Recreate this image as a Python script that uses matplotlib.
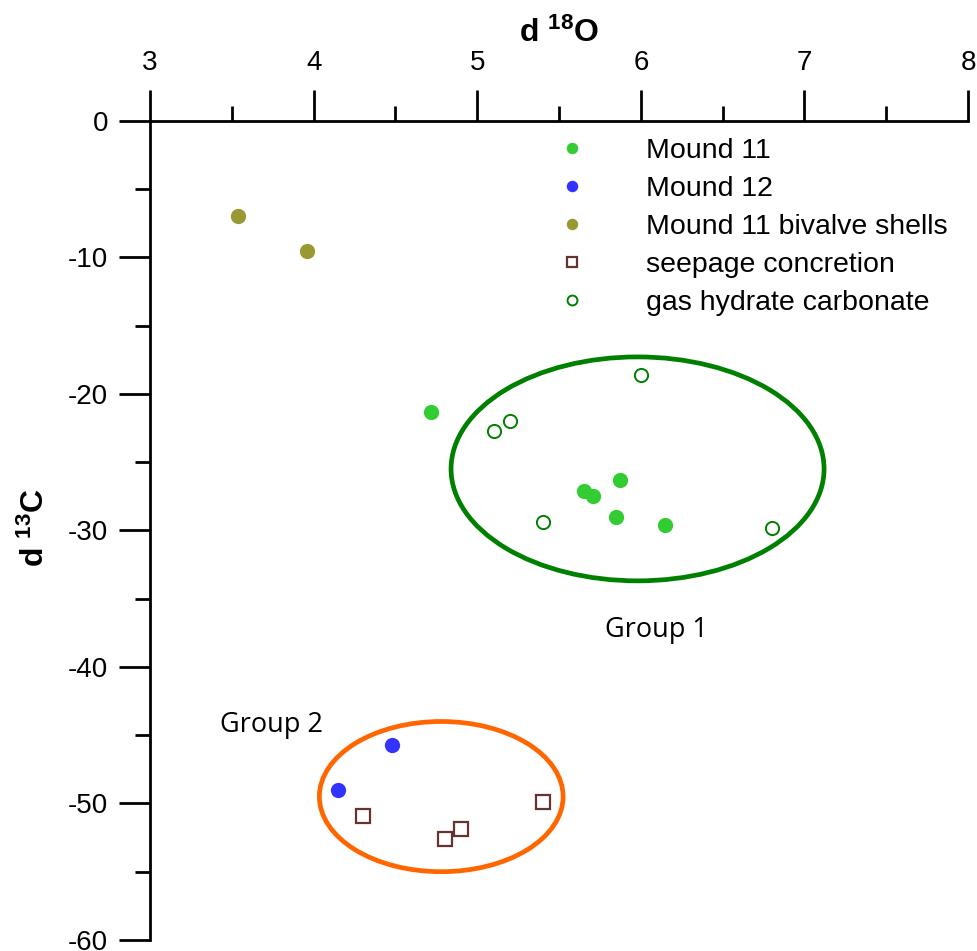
import numpy as np
import matplotlib.pyplot as plt
from matplotlib.patches import Ellipse
from matplotlib.ticker import MultipleLocator

plt.rcParams['font.family'] = ['Liberation Sans', 'DejaVu Sans']
plt.rcParams['mathtext.fontset'] = 'custom'
plt.rcParams['mathtext.rm'] = 'Liberation Sans'
plt.rcParams['mathtext.default'] = 'regular'
plt.rcParams['axes.unicode_minus'] = False

# d18O (x), d13C (y)
mound11_x = [4.72, 5.87, 5.65, 5.71, 5.85, 6.15]
mound11_y = [-21.3, -26.3, -27.1, -27.5, -29.0, -29.6]

mound12_x = [4.48, 4.15]
mound12_y = [-45.7, -49.0]

bivalve_x = [3.54, 3.96]
bivalve_y = [-7.0, -9.55]

seep_x = [4.30, 4.80, 4.90, 5.40]
seep_y = [-50.9, -52.6, -51.9, -49.9]

hydrate_x = [6.00, 5.10, 5.20, 5.40, 6.80]
hydrate_y = [-18.65, -22.7, -22.0, -29.4, -29.8]

# group outlines: center x, center y, width, height
group1 = (5.98, -25.5, 2.28, 16.4)
group2 = (4.78, -49.5, 1.49, 11.0)

fig = plt.figure(figsize=(9.78, 9.51), dpi=100)
ax = fig.add_axes([0.1534, 0.0116, 0.8364, 0.8615])

ax.plot(mound11_x, mound11_y, 'o', color='#33cc33', ms=11, mec='none', label='Mound 11')
ax.plot(mound12_x, mound12_y, 'o', color='#3333ff', ms=11, mec='none', label='Mound 12')
ax.plot(bivalve_x, bivalve_y, 'o', color='#999933', ms=11, mec='none', label='Mound 11 bivalve shells')
ax.plot(seep_x, seep_y, 's', mfc='none', mec='#663333', mew=1.6, ms=9.5, label='seepage concretion')
ax.plot(hydrate_x, hydrate_y, 'o', mfc='none', mec='#008000', mew=1.4, ms=9.5, label='gas hydrate carbonate')

ax.add_patch(Ellipse(group1[:2], group1[2], group1[3], fill=False, ec='#008000', lw=3.4))
ax.add_patch(Ellipse(group2[:2], group2[2], group2[3], fill=False, ec='#ff6600', lw=3.4))

ax.text(5.78, -37.8, 'Group 1', family='Open Sans', fontsize=19.5, ha='left', va='baseline')
ax.text(3.43, -44.76, 'Group 2', family='Open Sans', fontsize=19.5, ha='left', va='baseline')

ax.set_xlim(3, 8)
ax.set_ylim(-60, 0)
ax.xaxis.tick_top()
ax.xaxis.set_label_position('top')
ax.xaxis.set_major_locator(MultipleLocator(1))
ax.xaxis.set_minor_locator(MultipleLocator(0.5))
ax.yaxis.set_major_locator(MultipleLocator(10))
ax.yaxis.set_minor_locator(MultipleLocator(5))

for s in ['right', 'bottom']:
    ax.spines[s].set_visible(False)
for s in ['left', 'top']:
    ax.spines[s].set_linewidth(2)

ax.tick_params(which='major', length=22, width=2, labelsize=20)
ax.tick_params(which='minor', length=11, width=2)
ax.tick_params(axis='x', which='major', pad=10)
ax.tick_params(axis='y', which='major', pad=8)

ax.set_xlabel(r'd $^{18}$O', fontsize=23, fontweight='bold', labelpad=6)
ax.set_ylabel(r'd $^{13}$C', fontsize=23, fontweight='bold')
ax.yaxis.set_label_coords(-0.121, 0.503)

ax.legend(loc='upper left', bbox_to_anchor=(0.485, 0.993), frameon=False,
          fontsize=20.5, markerscale=0.75, handlelength=1.0, handletextpad=2.1,
          labelspacing=0.42, borderaxespad=0)

fig.savefig('out.png', dpi=100)
